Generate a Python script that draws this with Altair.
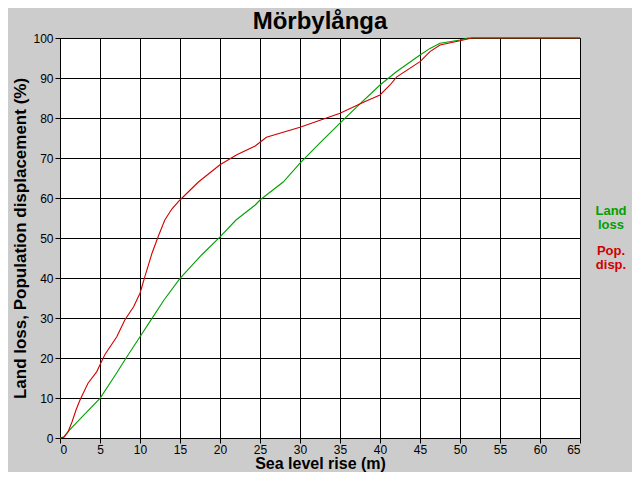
import altair as alt
import pandas as pd

# Land loss (green)
land_x = [0, 0.5, 1, 3, 5, 7, 8.1, 10, 11.5, 13, 15, 17.7, 20, 22, 24.4, 25, 27.9, 30, 32.5, 35, 37.1, 40, 42, 45, 46.25, 47.5, 50, 51, 65]
land_y = [0, 0.3, 1.6, 5.8, 9.9, 16, 19.5, 25.3, 29.9, 34.5, 39.9, 45.75, 50.3, 54.5, 58.25, 59.5, 64, 68.7, 73.8, 78.7, 82.8, 88.25, 91.5, 95.75, 97.4, 98.7, 99.5, 100, 100]

# Population displacement (red)
pop_x = [0, 0.5, 1, 1.5, 2, 2.5, 3.5, 4.6, 5, 5.6, 7.1, 8.1, 9.2, 10, 10.6, 11.5, 12.3, 13.1, 14, 15, 17.3, 20, 22.1, 24.4, 25.8, 30, 35, 38, 40, 41.25, 42.1, 45, 46.25, 47.5, 50, 51.5, 65]
pop_y = [0, 0.2, 1.5, 4, 7, 9.5, 13.7, 16.6, 18.3, 20.8, 25.3, 29.5, 32.8, 36.2, 40.3, 46.2, 50.5, 54.5, 57.3, 59.5, 64, 68.3, 70.8, 73, 75.2, 77.7, 81.2, 84, 85.75, 88.25, 90.3, 94.1, 96.6, 98.25, 99.3, 100, 100]

series_names = ["Land loss", "Pop. disp."]
series_colors = ["#00a000", "#d00000"]
legend_lines = ["Land", "loss", "Pop.", "disp."]
legend_line_colors = ["#00a000", "#00a000", "#d00000", "#d00000"]

df = pd.concat([
    pd.DataFrame({"x": land_x, "y": land_y, "series": series_names[0], "order": range(len(land_x))}),
    pd.DataFrame({"x": pop_x, "y": pop_y, "series": series_names[1], "order": range(len(pop_x))}),
])

FONT = "Liberation Sans"

lines = alt.Chart(df).mark_line(strokeWidth=1.1).encode(
    x=alt.X("x:Q", scale=alt.Scale(domain=[0, 65], nice=False),
            axis=alt.Axis(title="Sea level rise (m)", values=list(range(0, 66, 5)),
                          titleBaseline="alphabetic", titleY=30, titleFontSize=16, labelPadding=1)),
    y=alt.Y("y:Q", scale=alt.Scale(domain=[0, 100], nice=False),
            axis=alt.Axis(title="Land loss, Population displacement (%)", values=list(range(0, 101, 10)),
                          titleBaseline="alphabetic", titleX=-35)),
    color=alt.Color("series:N", scale=alt.Scale(domain=series_names, range=series_colors), legend=None),
    detail="series:N",
    order="order:Q",
)

leg_df = pd.DataFrame({"t": legend_lines, "c": legend_line_colors, "i": range(4)})
leg_y = [177, 191, 217, 231]
legend_layers = []
for i in range(4):
    legend_layers.append(
        alt.Chart(leg_df[leg_df.i == i]).mark_text(
            font=FONT, fontSize=13, fontWeight="bold", align="center", baseline="alphabetic"
        ).encode(
            text="t:N",
            x=alt.value(551),
            y=alt.value(leg_y[i]),
            color=alt.Color("c:N", scale=None),
        )
    )

chart = alt.layer(lines, *legend_layers).properties(
    width=520, height=400,
    title=alt.TitleParams("Mörbylånga", font=FONT, fontSize=24, fontWeight="bold", color="black", offset=-2),
    background="#cccccc",
    padding={"left": 52, "top": 30, "right": 52, "bottom": 34},
    autosize=alt.AutoSizeParams(type="none"),
).configure_view(
    stroke="black", strokeWidth=1, fill="white"
).configure_axis(
    grid=True, gridColor="black", gridOpacity=1, gridWidth=1,
    domainColor="black", tickColor="black", tickSize=5,
    labelFont=FONT, labelFontSize=12, labelColor="black",
    titleFont=FONT, titleFontSize=17, titleFontWeight="bold", titleColor="black",
    labelPadding=2,
)

chart.save("out.html", embed_options={"renderer": "svg", "actions": False})
